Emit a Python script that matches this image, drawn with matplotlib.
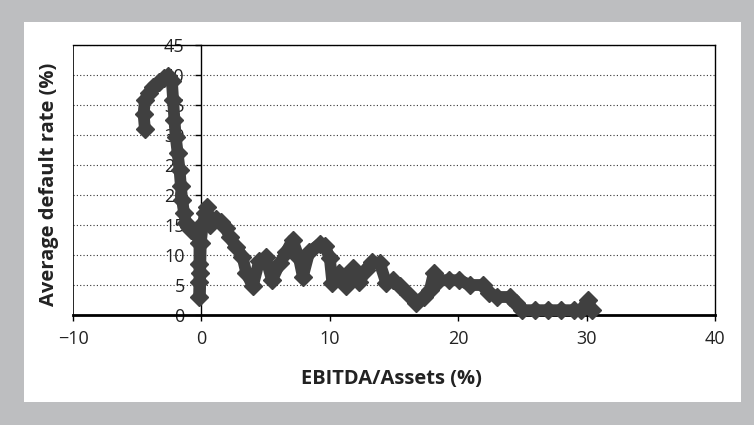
import matplotlib.pyplot as plt
from matplotlib.patches import Rectangle

# EBITDA/Assets (%) vs. average default rate (%)
ebitda = [-4.4, -4.5, -4.4, -4.1, -3.8, -3.3, -2.9, -2.6, -2.3, -2.2,
          -2.1, -2.0, -1.85, -1.7, -1.6, -1.5, -1.35, -1.2, -1.0, -0.8,
          -0.6, -0.4, -0.25, -0.15, -0.15, -0.15, -0.15, -0.1, -0.05,
          0.1, 0.3, 0.4, 0.7, 1.1, 1.5, 1.9, 2.2, 2.7, 3.2, 3.5,
          4.0, 4.5, 5.0, 5.5, 6.1, 6.6, 7.1, 7.6, 7.9, 8.4,
          9.2, 9.6, 10.0, 10.2, 10.7, 11.3, 11.8, 12.3, 12.8, 13.3,
          13.9, 14.4, 14.9, 15.5, 16.1, 16.7, 17.3, 17.8, 18.1, 18.5,
          19.3, 20.1, 20.9, 21.9, 22.4, 23.0, 24.0, 24.5, 25.0, 26.0,
          27.0, 28.0, 29.0, 29.6, 30.1, 30.4]
default_rate = [31.0, 33.5, 35.8, 37.0, 38.0, 38.8, 39.5, 39.8, 39.0, 35.8,
                32.5, 29.7, 27.0, 24.2, 21.5, 19.2, 17.0, 15.3, 14.6, 14.2,
                13.8, 13.5, 14.5, 12.0, 8.5, 5.5, 3.0, 7.0, 12.0,
                15.0, 17.0, 18.0, 15.0, 16.0, 15.5, 14.5, 13.0, 11.4, 9.7, 7.0,
                4.8, 9.0, 9.6, 5.8, 8.6, 10.5, 12.5, 9.5, 6.4, 10.5,
                11.8, 11.5, 9.5, 5.3, 7.0, 4.8, 7.8, 5.5, 7.5, 8.9,
                8.6, 5.3, 5.8, 4.8, 3.5, 2.0, 3.0, 4.2, 7.0, 5.8,
                5.8, 5.8, 5.0, 5.0, 3.7, 3.0, 3.0, 2.0, 0.8, 0.8,
                0.8, 0.8, 0.8, 0.8, 2.5, 0.8]

x_ticks = [-10, 0, 10, 20, 30, 40]
y_ticks = [0, 5, 10, 15, 20, 25, 30, 35, 40, 45]

plt.rcParams['font.family'] = ['Open Sans', 'DejaVu Sans']

fig = plt.figure(figsize=(7.54, 4.25), dpi=100)
fig.patch.set_facecolor('#bdbec0')
# white panel behind the chart
fig.patches.append(Rectangle((24 / 754, 1 - 402 / 425), (741 - 24) / 754,
                             (402 - 22) / 425, transform=fig.transFigure,
                             facecolor='white', edgecolor='none', zorder=-5))

ax = fig.add_axes([73 / 754, 1 - 315 / 425, (715 - 73) / 754, 270 / 425])
ax.set_zorder(3)
ax.set_facecolor('white')
ax.set_xlim(-10, 40)
ax.set_ylim(0, 45)

ax.plot(ebitda, default_rate, color='#404040', lw=8.5, marker='D',
        markersize=9.5, solid_joinstyle='round', solid_capstyle='round',
        zorder=5, clip_on=False)

# y axis drawn at x = 0
ax.spines['left'].set_position(('data', 0))
ax.spines['left'].set_linewidth(1)
ax.spines['bottom'].set_linewidth(2)
ax.spines['top'].set_linewidth(1)
ax.spines['right'].set_linewidth(1)
ax.axvline(-10, color='black', lw=1.2, zorder=1)

ax.set_xticks(x_ticks)
ax.set_yticks(y_ticks)
ax.tick_params(axis='y', direction='out', length=4, width=1, pad=8,
               labelsize=13)
ax.tick_params(axis='x', direction='out', length=4, width=1, pad=7,
               labelsize=13)
ax.tick_params(colors='black', which='both', labelcolor='#222222')
for lbl in ax.get_yticklabels():
    lbl.set_zorder(2)

ax.yaxis.grid(True, linestyle=(0, (1, 2)), color='#333333', linewidth=0.8)
ax.set_axisbelow(True)

fig.text(391 / 754, 1 - 379 / 425, 'EBITDA/Assets (%)', ha='center',
         va='center', fontsize=14.5, fontweight='bold', color='#222222',
         zorder=4)
fig.text(49 / 754, 1 - 184 / 425, 'Average default rate (%)', ha='center',
         va='center', rotation=90, fontsize=14.5, fontweight='bold',
         color='#222222', zorder=4)

fig.savefig('out.png', dpi=100, facecolor=fig.get_facecolor())
